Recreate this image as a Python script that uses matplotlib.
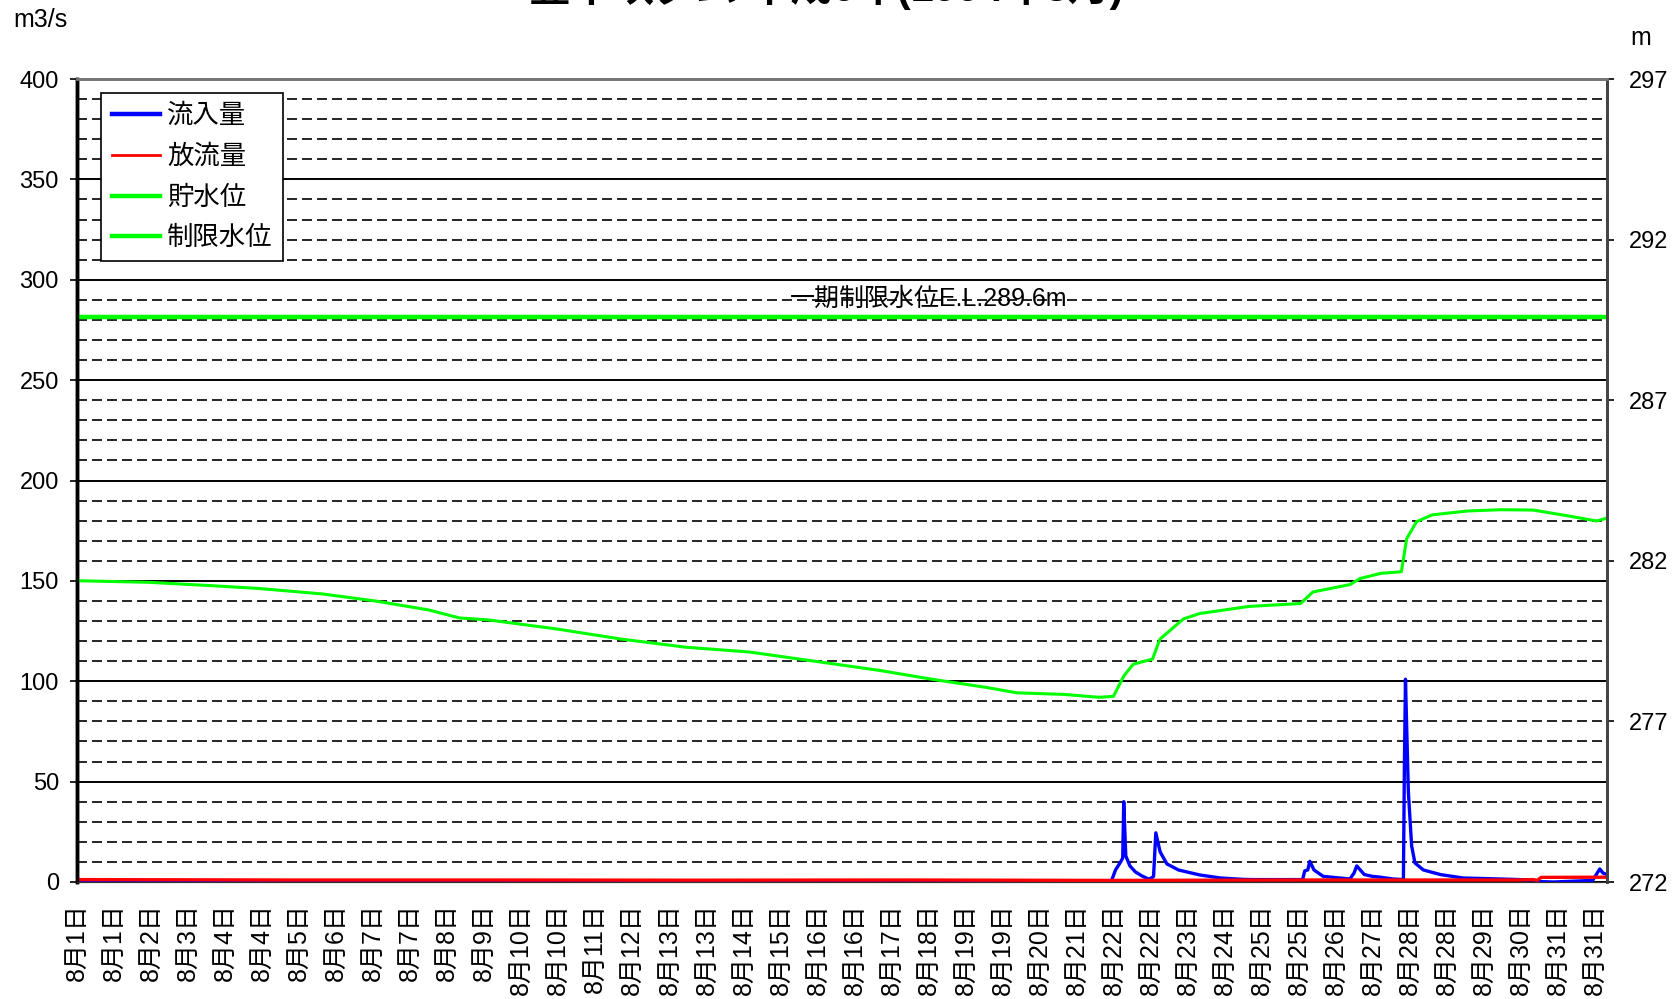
import numpy as np
import matplotlib
matplotlib.use("Agg")
import matplotlib.pyplot as plt
from matplotlib.ticker import MultipleLocator

plt.rcParams['font.family'] = ['Liberation Sans', 'Noto Sans CJK JP', 'DejaVu Sans']

# 流入量 (m3/s), hours from 8/1 0:00
inflow_h = [0, 60, 120, 200, 300, 400, 480, 503, 505, 507.5, 508.5, 509, 510, 512, 514.7,
            517.9, 521, 522.5, 523.5, 524.6, 526.7, 530, 535.6, 546, 556, 567, 572, 596,
            597, 598.5, 599.5, 601.5, 606, 619, 621, 622.3, 626, 630, 633, 640, 645, 645.5,
            646, 647.4, 649, 650.6, 654.7, 663, 674, 692, 708, 712, 718, 737, 740.5, 742, 744]
inflow = [0.3, 0.2, 0.4, 0.3, 0.2, 0.3, 0.2, 0.5, 6, 10, 12, 40, 13, 8, 5,
          3, 1.5, 2, 2.8, 24.5, 15, 9, 6, 3.5, 2, 1.3, 1.2, 1.2,
          5.5, 6, 10.3, 6, 2.8, 1.5, 4.5, 8, 3.7, 2.8, 2.5, 1.5, 1.2, 60,
          101, 45, 18, 9.5, 6, 3.7, 2, 1.5, 1.0, 0.2, 0, 0.8, 6.5, 4.5, 3.7]

# 放流量 (m3/s)
outflow_h = [0, 100, 200, 300, 400, 500, 600, 700, 708, 710, 712, 744]
outflow = [1.2, 1.0, 1.0, 0.9, 1.0, 0.8, 1.0, 1.0, 1.2, 0.8, 2.3, 2.4]

# 貯水位 (m)
level_h = [0, 35, 67, 88, 119, 145, 171, 186, 200, 233, 265, 296, 327, 358, 390, 416,
           442, 457, 480, 497, 504, 509, 513.6, 523, 526.6, 538, 546, 570, 595, 601,
           619, 624, 634, 644, 646.6, 651.4, 659, 676, 692, 708, 724, 739, 744]
level = [281.38, 281.33, 281.22, 281.14, 280.97, 280.75, 280.47, 280.22, 280.16, 279.88,
         279.56, 279.31, 279.16, 278.88, 278.59, 278.31, 278.06, 277.89, 277.84, 277.75,
         277.78, 278.41, 278.78, 278.94, 279.56, 280.19, 280.36, 280.58, 280.67, 281.03,
         281.26, 281.45, 281.61, 281.66, 282.69, 283.22, 283.43, 283.55, 283.59, 283.58,
         283.41, 283.24, 283.33]

# 制限水位 (m)
limit_level = 289.6

xlabels = ['8月1日', '8月1日', '8月2日', '8月3日', '8月4日', '8月4日', '8月5日', '8月6日',
           '8月7日', '8月7日', '8月8日', '8月9日', '8月10日', '8月10日', '8月11日', '8月12日',
           '8月13日', '8月13日', '8月14日', '8月15日', '8月16日', '8月16日', '8月17日', '8月18日',
           '8月19日', '8月19日', '8月20日', '8月21日', '8月22日', '8月22日', '8月23日', '8月24日',
           '8月25日', '8月25日', '8月26日', '8月27日', '8月28日', '8月28日', '8月29日', '8月30日',
           '8月31日', '8月31日']

fig = plt.figure(figsize=(16.79, 9.99), dpi=100)
ax = fig.add_axes([77 / 1679, 1 - 882 / 999, 1530 / 1679, 803 / 999])
ax2 = ax.twinx()

# grid
ax.set_ylim(0, 400)
ax.set_xlim(0, 744)
ax.yaxis.set_major_locator(MultipleLocator(50))
ax.yaxis.set_minor_locator(MultipleLocator(10))
ax.grid(which='major', axis='y', color='black', lw=1.4, ls='-')
ax.grid(which='minor', axis='y', color='black', lw=1.2, ls=(0, (6, 3)))
ax.set_axisbelow(True)

l_in, = ax.plot(inflow_h, inflow, color='#0000ff', lw=2.4, label='流入量', zorder=3)
l_out, = ax.plot(outflow_h, outflow, color='#ff0000', lw=2.4, label='放流量', zorder=4)

l_lev, = ax2.plot(level_h, level, color='#00ff00', lw=2.2, label='貯水位')
l_lim, = ax2.plot([0, 744], [limit_level, limit_level], color='#00ff00', lw=3.2,
                  label='制限水位')
ax2.set_ylim(272, 297)
ax2.set_yticks(np.arange(272, 298, 5))

ax.text(414, 290.5, '一期制限水位E.L.289.6m', ha='center', va='center', fontsize=18)

ax.set_xticks(np.arange(0, 744, 18))
ax.set_xticklabels(xlabels, rotation=90, fontsize=18)
ax.tick_params(axis='x', length=0, pad=15)
ax.tick_params(axis='y', which='major', length=5, width=1.2, labelsize=17, pad=8)
ax.tick_params(axis='y', which='minor', length=0)
ax2.tick_params(axis='y', length=5, width=1.2, labelsize=17, pad=11)

for a in (ax, ax2):
    a.spines['top'].set_color('#777777')
    a.spines['top'].set_linewidth(2)
    a.spines['bottom'].set_color('#333333')
    a.spines['left'].set_linewidth(2.5)
    a.spines['right'].set_linewidth(2)
    a.spines['right'].set_color('#444444')

leg = ax.legend(handles=[l_in, l_out, l_lev, l_lim], loc='upper left',
                bbox_to_anchor=(0.0157, 0.9826), borderaxespad=0, fontsize=19,
                fancybox=False, framealpha=1, edgecolor='black', handlelength=1.85,
                labelspacing=0.62, borderpad=0.4, handletextpad=0.25)
leg.get_frame().set_linewidth(1.2)
leg.set_zorder(10)
for h, w in zip(leg.get_lines(), [3.2, 2.0, 3.2, 3.2]):
    h.set_linewidth(w)

fig.text(13 / 1679, 1 - 8 / 999, 'm3/s', ha='left', va='top', fontsize=18)
fig.text(1630 / 1679, 1 - 26 / 999, 'm', ha='left', va='top', fontsize=18)
fig.text(0.492, 1 - 1 / 999, '豊平峡ダム 平成6年(1994年8月)', ha='center', va='baseline',
         fontsize=30, fontweight='bold')

fig.savefig('out.png', dpi=100)
